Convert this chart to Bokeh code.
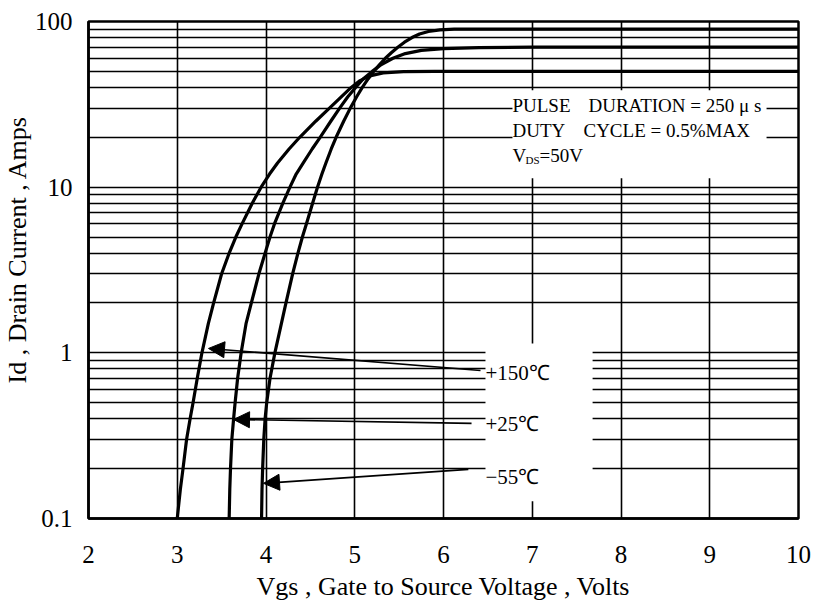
import numpy as np
from bokeh.plotting import figure
from bokeh.models import Range1d, FixedTicker, Label, Arrow, NormalHead, Title
from bokeh.embed import file_html
from bokeh.resources import INLINE

# Transfer characteristics: drain current vs gate-source voltage at three temperatures
vgs_150 = [3.0, 3.035, 3.065, 3.105, 3.145, 3.178, 3.225, 3.278, 3.35, 3.41, 3.5, 3.585,
           3.66, 3.73, 3.845, 3.945, 4.04, 4.13, 4.26, 4.38, 4.56, 4.715, 4.845, 4.96,
           5.06, 5.17, 5.32, 5.55, 5.9, 7.0, 8.0, 9.0, 10.0]
id_150 = [0.1, 0.15, 0.2, 0.3, 0.4, 0.5, 0.7, 1.0, 1.5, 2.0, 3.0, 4.0,
          5.0, 6.0, 8.0, 10.0, 12.0, 14.0, 17.0, 20.0, 25.0, 30.0, 35.0, 40.0,
          44.0, 47.0, 49.0, 49.8, 50.0, 50.0, 50.0, 50.0, 50.0]

vgs_25 = [3.585, 3.592, 3.6, 3.615, 3.635, 3.652, 3.68, 3.72, 3.775, 3.835, 3.92, 3.99,
          4.045, 4.095, 4.19, 4.27, 4.34, 4.42, 4.52, 4.61, 4.73, 4.83, 4.92, 5.01,
          5.094, 5.197, 5.3, 5.43, 5.57, 5.75, 6.0, 6.4, 7.0, 8.0, 9.0, 10.0]
id_25 = [0.1, 0.15, 0.2, 0.3, 0.4, 0.5, 0.7, 1.0, 1.5, 2.0, 3.0, 4.0,
         5.0, 6.0, 8.0, 10.0, 12.0, 14.0, 17.0, 20.0, 25.0, 30.0, 35.0, 40.0,
         45.0, 50.0, 55.0, 60.0, 64.0, 67.0, 68.5, 69.5, 70.0, 70.0, 70.0, 70.0]

vgs_m55 = [3.95, 3.955, 3.962, 3.975, 3.99, 4.008, 4.045, 4.1, 4.225, 4.3, 4.36, 4.41,
           4.455, 4.525, 4.58, 4.63, 4.675, 4.735, 4.79, 4.875, 4.95, 5.02, 5.085, 5.15,
           5.215, 5.28, 5.345, 5.415, 5.485, 5.56, 5.645, 5.73, 5.83, 5.96, 6.12,
           7.0, 8.0, 9.0, 10.0]
id_m55 = [0.1, 0.15, 0.2, 0.3, 0.4, 0.5, 0.7, 1.0, 2.0, 3.0, 4.0, 5.0,
          6.0, 8.0, 10.0, 12.0, 14.0, 17.0, 20.0, 25.0, 30.0, 35.0, 40.0, 45.0,
          50.0, 55.0, 60.0, 65.0, 70.0, 75.0, 80.0, 84.0, 87.0, 89.0, 90.0,
          90.0, 90.0, 90.0, 90.0]

x_ticks = [2, 3, 4, 5, 6, 7, 8, 9, 10]
y_ticks = [0.1, 1, 10, 100]
y_tick_labels = ["0.1", "1", "10", "100"]
y_minor = [m * d for d in (0.1, 1, 10) for m in range(2, 10)]

temp_labels = ["+150℃", "+25℃", "−55℃"]

SERIF = "Liberation Serif"

p = figure(width=814, height=609,
           x_range=Range1d(2, 10), y_range=Range1d(0.1, 100),
           y_axis_type="log", output_backend="svg", toolbar_location=None,
           min_border_left=88, min_border_right=16,
           min_border_top=21, min_border_bottom=91)
p.background_fill_color = "white"
p.border_fill_color = "white"
p.outline_line_color = "black"
p.outline_line_width = 2.5

p.xaxis.ticker = FixedTicker(ticks=x_ticks)
p.yaxis.ticker = FixedTicker(ticks=y_ticks, minor_ticks=y_minor)
p.yaxis.major_label_overrides = {t: s for t, s in zip(y_ticks, y_tick_labels)}
p.xaxis.major_label_overrides = {t: str(t) for t in x_ticks}

for ax in (p.xaxis, p.yaxis):
    ax.axis_line_color = "black"
    ax.axis_line_width = 2.5
    ax.major_tick_line_color = None
    ax.minor_tick_line_color = None
    ax.major_tick_out = 0
    ax.minor_tick_out = 0
    ax.major_label_text_font = SERIF
    ax.major_label_text_font_size = "25px"
    ax.major_label_text_color = "black"

p.yaxis.major_label_standoff = 16
p.xaxis.major_label_standoff = 27
p.xaxis.axis_label = "Vgs , Gate to Source Voltage , Volts"
p.xaxis.axis_label_text_font = SERIF
p.xaxis.axis_label_text_font_size = "26px"
p.xaxis.axis_label_text_font_style = "normal"
p.xaxis.axis_label_text_color = "black"
p.xaxis.axis_label_standoff = 6

# vertical axis title, starting 135 px above the bottom of the frame
p.add_layout(Title(text="Id , Drain Current , Amps", align="left", offset=135,
                   standoff=0, text_font=SERIF, text_font_size="26px",
                   text_font_style="normal", text_color="black"), "left")

p.xgrid.grid_line_color = "black"
p.xgrid.grid_line_width = 1.6
p.ygrid.grid_line_color = "black"
p.ygrid.grid_line_width = 1.6
p.ygrid.minor_grid_line_color = "black"
p.ygrid.minor_grid_line_width = 1.6

# blank panels behind the test-condition note and the temperature labels
p.quad(left=6.777, right=9.64, bottom=11.3, top=38.5,
       fill_color="white", line_color=None)
p.quad(left=6.473, right=7.68, bottom=0.127, top=1.14,
       fill_color="white", line_color=None)

for xs, ys in ((vgs_150, id_150), (vgs_25, id_25), (vgs_m55, id_m55)):
    p.line(xs, ys, line_color="black", line_width=3.2, line_join="round")

# arrows from each temperature label to its curve
arrow_specs = [((6.417, 0.783), (3.352, 1.063)),
               ((6.316, 0.375), (3.634, 0.396)),
               ((6.28, 0.198), (3.972, 0.163))]
for (xs, ys), (xe, ye) in arrow_specs:
    p.add_layout(Arrow(end=NormalHead(size=16, fill_color="black", line_color="black"),
                       x_start=xs, y_start=ys, x_end=xe, y_end=ye,
                       line_color="black", line_width=1.6))

for txt, yy in zip(temp_labels, (0.751, 0.37, 0.177)):
    p.add_layout(Label(x=6.473, y=yy, text=txt, text_baseline="middle",
                       text_font=SERIF, text_font_size="21px", text_color="black"))

note_font = "19px"
notes = [("PULSE", 0, 31.1), ("DURATION = 250 μ s", 76, 31.1),
         ("DUTY", 0, 22.0), ("CYCLE = 0.5%MAX", 71, 22.0),
         ("V", 0, 15.5), ("=50V", 27, 15.5)]
for txt, dx, yy in notes:
    p.add_layout(Label(x=6.777, y=yy, x_offset=dx, text=txt, text_baseline="middle",
                       text_font=SERIF, text_font_size=note_font, text_color="black"))
p.add_layout(Label(x=6.777, y=15.5, x_offset=13, y_offset=-4, text="DS",
                   text_baseline="middle", text_font=SERIF, text_font_size="11px",
                   text_color="black"))

open("out.html", "w").write(file_html(p, INLINE))
